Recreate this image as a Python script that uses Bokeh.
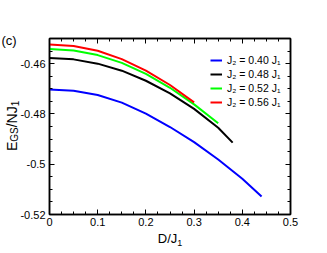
import math
from bokeh.plotting import figure
from bokeh.models import (Label, Legend, LegendItem, LinearAxis, SingleIntervalTicker,
                          CustomJSTickFormatter, Range1d)
from bokeh.embed import file_html
from bokeh.resources import INLINE

# ---- data ----
D_040 = [0.0, 0.05, 0.10, 0.15, 0.20, 0.25, 0.30, 0.35, 0.40, 0.44]
E_040 = [-0.4703, -0.4708, -0.4725, -0.4755, -0.4799, -0.4852, -0.4912, -0.4981, -0.5058, -0.5128]

D_048 = [0.0, 0.05, 0.10, 0.15, 0.20, 0.25, 0.30, 0.35, 0.38]
E_048 = [-0.4578, -0.4583, -0.4600, -0.4628, -0.4668, -0.4718, -0.4780, -0.4855, -0.4914]

D_052 = [0.0, 0.05, 0.10, 0.15, 0.20, 0.25, 0.30, 0.35]
E_052 = [-0.4542, -0.4548, -0.4566, -0.4597, -0.4641, -0.4696, -0.4762, -0.4837]

D_056 = [0.0, 0.05, 0.10, 0.15, 0.20, 0.25, 0.30]
E_056 = [-0.4524, -0.4530, -0.4549, -0.4582, -0.4628, -0.4685, -0.4754]

SERIES_LABELS = ["J₂ = 0.40 J₁", "J₂ = 0.48 J₁", "J₂ = 0.52 J₁", "J₂ = 0.56 J₁"]
COLORS = ["#0000ff", "#000000", "#00ff00", "#ff0000"]

X_RANGE = (0.0, 0.5)
Y_RANGE = (-0.52, -0.45)
X_TICK_STEP = 0.1
Y_TICK_STEP = 0.02

FONT = "Liberation Sans"

# ---- figure ----
W, H = 327, 253
ML, MR, MT, MB = 49, 37, 38, 39
p = figure(width=W, height=H, x_range=Range1d(*X_RANGE), y_range=Range1d(*Y_RANGE),
           output_backend="svg", toolbar_location=None,
           min_border_left=ML, min_border_right=MR, min_border_top=MT, min_border_bottom=MB)
p.xgrid.visible = False
p.ygrid.visible = False
p.outline_line_color = "black"
p.outline_line_width = 1.5
p.background_fill_color = "white"
p.border_fill_color = "white"

fmt = CustomJSTickFormatter(code="return String(Number(tick.toFixed(3)));")
blank = CustomJSTickFormatter(code="return '';")


def style_axis(ax, labels=True):
    ax.axis_line_color = "black"
    ax.axis_line_width = 1.5
    ax.major_tick_in = 5
    ax.major_tick_out = 0
    ax.minor_tick_in = 3
    ax.minor_tick_out = 0
    ax.major_tick_line_color = "black"
    ax.minor_tick_line_color = "black"
    ax.major_tick_line_width = 1
    ax.minor_tick_line_width = 1
    ax.major_label_text_font = FONT
    ax.major_label_text_font_size = "11px"
    ax.major_label_text_color = "black"
    ax.formatter = fmt if labels else blank


p.xaxis.ticker = SingleIntervalTicker(interval=X_TICK_STEP, num_minor_ticks=4)
p.yaxis.ticker = SingleIntervalTicker(interval=Y_TICK_STEP, num_minor_ticks=4)
for ax in p.xaxis:
    style_axis(ax)
    ax.major_label_standoff = 3
for ax in p.yaxis:
    style_axis(ax)
    ax.major_label_standoff = 4

top_ax = LinearAxis(ticker=SingleIntervalTicker(interval=X_TICK_STEP, num_minor_ticks=4))
style_axis(top_ax, labels=False)
top_ax.major_label_standoff = 0
p.add_layout(top_ax, "above")
right_ax = LinearAxis(ticker=SingleIntervalTicker(interval=Y_TICK_STEP, num_minor_ticks=4))
style_axis(right_ax, labels=False)
right_ax.major_label_standoff = 0
p.add_layout(right_ax, "right")

# ---- curves ----
renderers = []
for xs, ys, c in zip([D_040, D_048, D_052, D_056], [E_040, E_048, E_052, E_056], COLORS):
    renderers.append(p.line(xs, ys, line_color=c, line_width=2))

legend = Legend(items=[LegendItem(label=l, renderers=[r]) for l, r in zip(SERIES_LABELS, renderers)],
                location=(161, 105), padding=0, margin=0, spacing=0,
                glyph_width=12, glyph_height=14, label_height=14, label_standoff=5,
                label_text_font=FONT, label_text_font_size="10.5px", label_text_color="black",
                border_line_color=None, background_fill_alpha=0)
p.add_layout(legend)


def lab(text, px, py, size, angle=0.0, place="below"):
    # px, py: canvas pixels from the top-left corner; labels live in side panels
    # (never clipped by the frame); the panel is chosen only so it has spare room.
    p.add_layout(Label(x=px, y=py, x_units="canvas", y_units="canvas", text=text,
                       text_font=FONT, text_font_size=size,
                       text_color="black", text_align="left", text_baseline="alphabetic",
                       angle=angle), place)

A = math.pi / 2

# x axis label D/J1
lab("D/J", 157.3, 238.3, "13px", place="below")
lab("1", 176.8, 242.0, "9px", place="right")

# y axis label E_GS/NJ_1 (rotated)
lab("E", 11, 150.6, "14px", A, place="left")
lab("GS", 14, 141.3, "10px", A, place="right")
lab("/NJ", 11, 126.8, "14px", A, place="right")
lab("1", 14, 105.8, "10px", A, place="above")

# panel tag
lab("(c)", 1, 40, "13px", place="above")

open("out.html", "w").write(file_html(p, INLINE))
